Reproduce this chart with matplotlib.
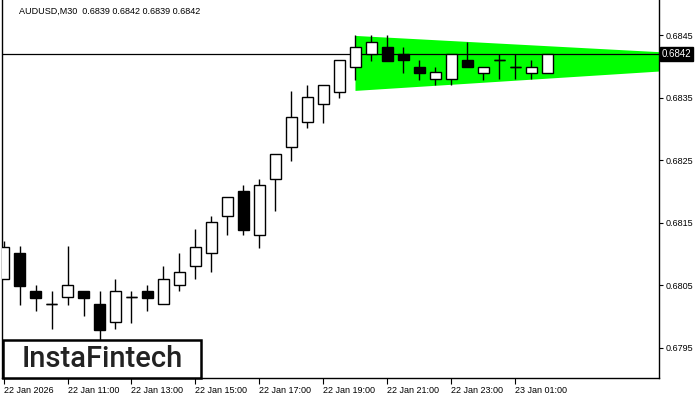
import numpy as np
import matplotlib
matplotlib.use("Agg")
import matplotlib.pyplot as plt
from matplotlib.patches import Rectangle, Polygon
from matplotlib.transforms import blended_transform_factory

# AUDUSD M30 candles
opens = [0.68060, 0.68101, 0.68041, 0.68020, 0.68031, 0.68041, 0.68020, 0.67991,
         0.68031, 0.68041, 0.68020, 0.68050, 0.68080, 0.68101, 0.68160, 0.68200,
         0.68130, 0.68220, 0.68271, 0.68311, 0.68340, 0.68360, 0.68400, 0.68420,
         0.68431, 0.68420, 0.68400, 0.68380, 0.68380, 0.68410, 0.68390, 0.68410,
         0.68400, 0.68390, 0.68390]
highs = [0.68121, 0.68112, 0.68050, 0.68041, 0.68112, 0.68041, 0.68041, 0.68060,
         0.68041, 0.68050, 0.68081, 0.68102, 0.68140, 0.68161, 0.68191, 0.68210,
         0.68220, 0.68260, 0.68361, 0.68371, 0.68371, 0.68410, 0.68450, 0.68450,
         0.68450, 0.68431, 0.68410, 0.68400, 0.68420, 0.68440, 0.68400, 0.68420,
         0.68420, 0.68410, 0.68420]
lows = [0.68060, 0.68019, 0.68009, 0.67980, 0.68019, 0.68000, 0.67963, 0.67980,
        0.67990, 0.68009, 0.68020, 0.68040, 0.68060, 0.68071, 0.68130, 0.68130,
        0.68110, 0.68169, 0.68249, 0.68301, 0.68310, 0.68350, 0.68378, 0.68409,
        0.68409, 0.68390, 0.68378, 0.68370, 0.68370, 0.68400, 0.68378, 0.68380,
        0.68380, 0.68380, 0.68390]
closes = [0.68111, 0.68049, 0.68030, 0.68020, 0.68050, 0.68030, 0.67979, 0.68040,
          0.68031, 0.68030, 0.68060, 0.68071, 0.68111, 0.68151, 0.68191, 0.68139,
          0.68210, 0.68260, 0.68320, 0.68351, 0.68371, 0.68410, 0.68431, 0.68440,
          0.68409, 0.68410, 0.68390, 0.68391, 0.68420, 0.68400, 0.68400, 0.68410,
          0.68400, 0.68400, 0.68420]

# bullish pennant (green area): start / end bar and its edges
flag_x = [22, 41]
flag_top = [0.68449, 0.68423]
flag_bottom = [0.68361, 0.68392]

last_price = 0.6842
price_ticks = [0.6795, 0.6805, 0.6815, 0.6825, 0.6835, 0.6845]
time_ticks = [0, 4, 8, 12, 16, 20, 24, 28, 32]
time_labels = ["22 Jan 2026", "22 Jan 11:00", "22 Jan 13:00", "22 Jan 15:00",
               "22 Jan 17:00", "22 Jan 19:00", "22 Jan 21:00", "22 Jan 23:00",
               "23 Jan 01:00"]

plt.rcParams['font.family'] = ['Liberation Sans', 'DejaVu Sans']

fig = plt.figure(figsize=(7, 4), dpi=100)
ax = fig.add_axes([2 / 700, 22 / 400, 657 / 700, 378 / 400])

x = np.arange(len(opens))
o = np.array(opens)
c = np.array(closes)

# green pattern
poly = Polygon([(flag_x[0], flag_top[0]), (flag_x[1], flag_top[1]),
                (flag_x[1], flag_bottom[1]), (flag_x[0], flag_bottom[0])],
               closed=True, facecolor='#00ff00', edgecolor='none', zorder=1)
ax.add_patch(poly)

ax.axhline(last_price, color='black', lw=0.9, zorder=2)

ax.vlines(x, lows, highs, color='black', lw=1.0, zorder=3)
bodies = np.abs(c - o)
colors = ['white' if cc >= oo else 'black' for oo, cc in zip(o, c)]
ax.bar(x, bodies, bottom=np.minimum(o, c), width=0.64, color=colors,
       edgecolor='black', linewidth=1.0, zorder=4)
# doji bars as flat lines
for xi, oo, cc in zip(x, o, c):
    if abs(cc - oo) < 1e-6:
        ax.hlines(oo, xi - 0.34, xi + 0.34, color='black', lw=1.0, zorder=4)

ax.set_xlim(-0.094, 40.97)
ax.set_ylim(0.679015, 0.685065)

ax.yaxis.tick_right()
ax.set_yticks(price_ticks)
ax.set_yticklabels([f"{v:.4f}" for v in price_ticks])
ax.tick_params(axis='y', direction='out', length=3, width=0.8, pad=2, labelsize=6.5)
ax.set_xticks(time_ticks)
ax.set_xticklabels(time_labels)
ax.tick_params(axis='x', direction='out', length=4, width=0.8, pad=2, labelsize=6.5)
for lbl in ax.get_xticklabels():
    lbl.set_horizontalalignment('left')

ax.spines['top'].set_visible(False)
for s in ['left', 'right', 'bottom']:
    ax.spines[s].set_linewidth(1.0)

# last price label on the axis
tr = blended_transform_factory(ax.transAxes, ax.transData)
ax.text(1.004, last_price, f"{last_price:.4f}", transform=tr, color='white',
        fontsize=7, va='center', ha='left', clip_on=False, zorder=10,
        bbox=dict(facecolor='black', edgecolor='black', pad=1.2))

fig.text(19 / 700, 1 - 11 / 400, "AUDUSD,M30  0.6839 0.6842 0.6839 0.6842",
         fontsize=6.5, va='center', ha='left')

# logo box
fig.patches.append(Rectangle((3 / 700, 22 / 400), 198 / 700, 38 / 400,
                             transform=fig.transFigure, facecolor='white',
                             edgecolor='black', linewidth=1.8, zorder=20))
fig.text(102 / 700, 1 - 359 / 400, "InstaFintech", fontsize=21,
         family='Roboto', fontweight='medium', color='#222222',
         ha='center', va='center', zorder=21)

fig.savefig('out.png', dpi=100)
